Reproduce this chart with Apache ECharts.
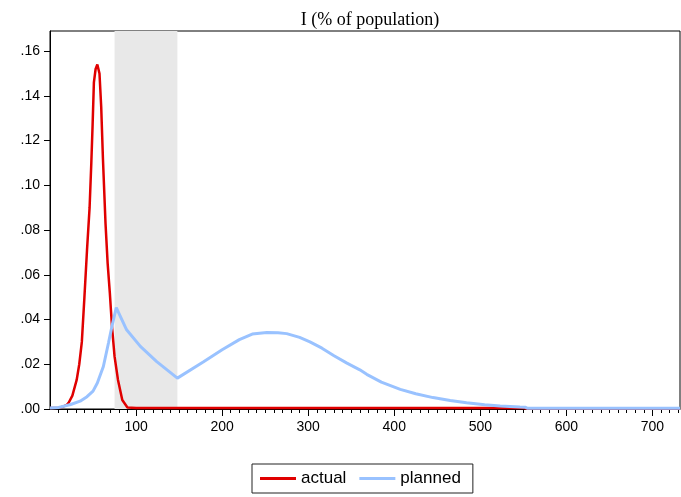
<!DOCTYPE html>
<html>
<head>
<meta charset="utf-8">
<script src="https://cdn.jsdelivr.net/npm/echarts@6/dist/echarts.min.js"></script>
<style>html,body{margin:0;padding:0;background:#fff}#c{width:681px;height:497px}</style>
</head>
<body>
<div id="c"></div>
<script>
// ---- data ----
var title = 'I (% of population)';
var seriesNames = ['actual', 'planned'];
var xTickValues = [100, 200, 300, 400, 500, 600, 700];
var yTickValues = [0, 0.02, 0.04, 0.06, 0.08, 0.10, 0.12, 0.14, 0.16];
var shadeRange = [75, 148];

var actualT = [0, 10, 15, 20, 22, 26, 31, 34, 37, 40, 43, 46, 48, 49.5, 51, 53, 55, 57.5, 59.5, 61.5, 64.5, 67, 69.5, 72, 75, 79, 84, 90, 100, 150, 200, 300, 400, 500, 550, 553, 732];
var actualV = [0.0005, 0.0006, 0.001, 0.002, 0.003, 0.006, 0.013, 0.02, 0.03, 0.05, 0.071, 0.09, 0.11, 0.127, 0.146, 0.152, 0.154, 0.150, 0.135, 0.112, 0.083, 0.065, 0.052, 0.037, 0.0235, 0.013, 0.004, 0.0007, 0.0005, 0.0005, 0.0005, 0.0005, 0.0005, 0.0005, 0.0005, 0.0002, 0.0002];

var plannedT = [0, 10, 24, 35, 43, 50, 55, 62, 68, 72, 77, 89, 105, 124, 148, 178, 200, 220, 235, 252, 265, 275, 290, 302, 316, 330, 345, 360, 368, 385, 407, 425, 445, 465, 484, 505, 523, 546, 552, 555, 732];
var plannedV = [0.0004, 0.0007, 0.002, 0.0035, 0.0055, 0.008, 0.0116, 0.019, 0.0296, 0.037, 0.0453, 0.0354, 0.028, 0.0212, 0.0138, 0.021, 0.0265, 0.031, 0.0335, 0.0342, 0.0341, 0.0337, 0.032, 0.030, 0.0272, 0.0238, 0.0205, 0.0175, 0.0155, 0.012, 0.0088, 0.0068, 0.0051, 0.0038, 0.0028, 0.0019, 0.0013, 0.0009, 0.0008, 0.0003, 0.0003];

var xMax = 732, yMax = 0.169;
var minorTicks = [];
for (var m = 10; m <= 730; m += 10) { if (m % 100 !== 0) minorTicks.push(m); }

function pairs(t, v) { return t.map(function (x, i) { return [x, v[i]]; }); }

var chart = echarts.init(document.getElementById('c'), null, { renderer: 'canvas' });
chart.setOption({
  animation: false,
  backgroundColor: '#fff',
  title: {
    text: title, left: 365, textAlign: 'center', top: 6,
    textStyle: { fontFamily: 'Liberation Serif', fontSize: 18, fontWeight: 'normal', color: '#000' }
  },
  legend: {
    data: seriesNames, left: 252, top: 464, orient: 'horizontal',
    icon: 'rect', itemWidth: 36, itemHeight: 3, itemGap: 13,
    padding: [6, 12, 6, 8],
    borderColor: '#222', borderWidth: 1,
    textStyle: { fontFamily: 'Liberation Sans', fontSize: 17, color: '#000' }
  },
  grid: { left: 50, right: 1, top: 31, bottom: 88, show: true, borderColor: '#000', borderWidth: 1, backgroundColor: 'transparent' },
  xAxis: [{
    type: 'value', min: 0, max: xMax,
    axisLine: { show: true, lineStyle: { color: '#000', width: 1 } },
    axisTick: { show: true, customValues: xTickValues, length: 7, lineStyle: { color: '#000' } },
    axisLabel: { customValues: xTickValues, fontFamily: 'Liberation Sans', fontSize: 14, color: '#000', margin: 11 },
    splitLine: { show: false }
  }, {
    type: 'value', min: 0, max: xMax, position: 'bottom', gridIndex: 0,
    axisLine: { show: false },
    axisTick: { show: true, customValues: minorTicks, length: 4, lineStyle: { color: '#000' } },
    axisLabel: { show: false },
    splitLine: { show: false }
  }],
  yAxis: {
    type: 'value', min: 0, max: yMax,
    axisLine: { show: true, lineStyle: { color: '#000', width: 1 } },
    axisTick: { show: true, customValues: yTickValues, length: 6, lineStyle: { color: '#000' } },
    axisLabel: {
      customValues: yTickValues, fontFamily: 'Liberation Sans', fontSize: 14, color: '#000', margin: 10,
      formatter: function (v) { return v.toFixed(2).replace(/^0/, ''); }
    },
    splitLine: { show: false }
  },
  series: [{
    name: 'shade', type: 'line', data: [], silent: true, z: 1,
    markArea: { silent: true, itemStyle: { color: '#e8e8e8' }, data: [[{ xAxis: shadeRange[0] }, { xAxis: shadeRange[1] }]] }
  }, {
    name: seriesNames[0], type: 'line', data: pairs(actualT, actualV), showSymbol: false, z: 3,
    lineStyle: { color: '#e00000', width: 2.5 }, itemStyle: { color: '#e00000' }
  }, {
    name: seriesNames[1], type: 'line', data: pairs(plannedT, plannedV), showSymbol: false, z: 4,
    lineStyle: { color: '#99c2ff', width: 3 }, itemStyle: { color: '#99c2ff' }
  }]
});
</script>
</body>
</html>
